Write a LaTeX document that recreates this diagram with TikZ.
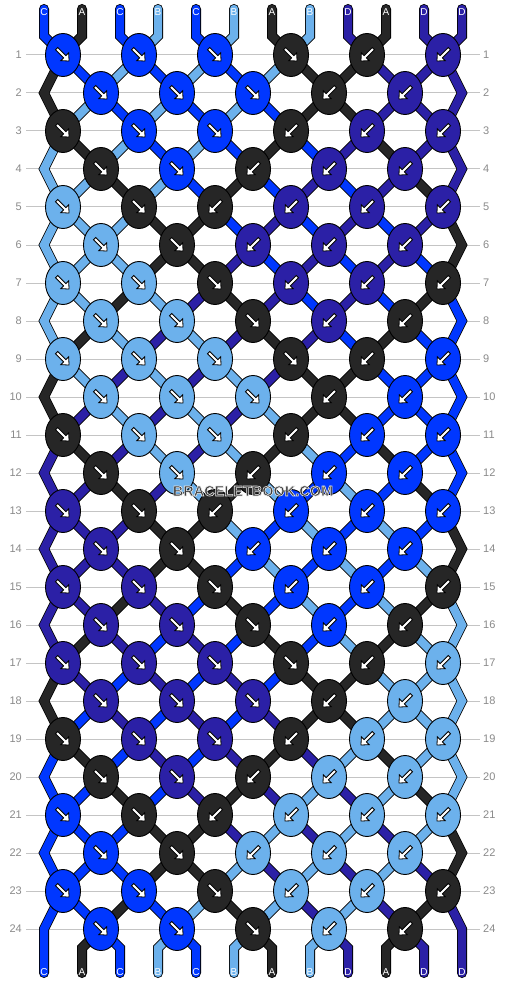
\documentclass[tikz,border=0pt]{standalone}
\usepackage{fontspec}
\setmainfont{Liberation Sans}
\usetikzlibrary{shapes.geometric}
\definecolor{colC}{HTML}{0037FF}
\definecolor{colA}{HTML}{262626}
\definecolor{colB}{HTML}{6CB1EC}
\definecolor{colD}{HTML}{2B20A6}
\definecolor{gridgray}{HTML}{C4C4C4}
\definecolor{numgray}{HTML}{8A8A8A}
\definecolor{wmgray}{HTML}{3C3C3C}
\newcommand{\haloed}[1]{\special{pdf:literal direct 2 Tr 0.92 0.92 0.92 RG 0.6 w}#1\special{pdf:literal direct 0 Tr}}
\tikzset{
  strand/.style={draw=black, double=#1, double distance=8.4pt, line width=0.8pt, line join=miter, line cap=round},
  knot/.style={ellipse, draw=black, line width=0.9pt, minimum width=35pt, minimum height=43pt, inner sep=0pt},
  arrowst/.style={draw=black, fill=white, line width=0.8pt, line join=miter},
  gridline/.style={draw=gridgray, line width=1pt},
  num/.style={text=numgray, font=\fontsize{11pt}{13pt}\selectfont, inner sep=0pt},
  lbl/.style={text=white, font=\fontsize{10pt}{12pt}\selectfont, inner sep=0pt},
}
\begin{document}
\begin{tikzpicture}[x=1pt,y=-1pt]
\useasboundingbox (0,0) rectangle (506,984);
\fill[white] (0,0) rectangle (506,984);
% row lines and numbers
\foreach \R in {1,...,24} {
  \draw[gridline] (26,17+38*\R) -- (480,17+38*\R);
  \node[num, anchor=east] (nl-\R) at (22,17+38*\R) {\R};
  \node[num, anchor=west] (nr-\R) at (483,17+38*\R) {\R};
}
% position coordinates
\foreach \R in {1,...,24} {
  \foreach \P in {0,...,11} {
    \pgfmathsetmacro\xx{isodd(\R) ? 63+76*floor(\P/2) : (\P==0 ? 44 : (\P==11 ? 462 : 101+76*floor((\P-1)/2)))}
    \coordinate (p-\R-\P) at (\xx,17+38*\R);
  }
}
% strands
\foreach \R/\L in {
 0/{C,A,C,B,C,B,A,B,D,A,D,D},
 1/{A,C,B,C,B,C,B,A,A,D,D,D},
 2/{A,B,C,B,C,B,C,A,A,D,D,D},
 3/{B,A,B,C,B,C,A,C,D,A,D,D},
 4/{B,B,A,B,C,A,C,D,C,D,A,D},
 5/{B,B,B,A,A,C,D,C,D,C,D,A},
 6/{B,B,B,A,A,D,C,D,C,D,C,A},
 7/{B,B,A,B,D,A,D,C,D,C,A,C},
 8/{B,A,B,D,B,D,A,D,C,A,C,C},
 9/{A,B,D,B,D,B,D,A,A,C,C,C},
 10/{A,D,B,D,B,D,B,A,A,C,C,C},
 11/{D,A,D,B,D,B,A,B,C,A,C,C},
 12/{D,D,A,D,B,A,B,C,B,C,A,C},
 13/{D,D,D,A,A,B,C,B,C,B,C,A},
 14/{D,D,D,A,A,C,B,C,B,C,B,A},
 15/{D,D,A,D,C,A,C,B,C,B,A,B},
 16/{D,A,D,C,D,C,A,C,B,A,B,B},
 17/{A,D,C,D,C,D,C,A,A,B,B,B},
 18/{A,C,D,C,D,C,D,A,A,B,B,B},
 19/{C,A,C,D,C,D,A,D,B,A,B,B},
 20/{C,C,A,C,D,A,D,B,D,B,A,B},
 21/{C,C,C,A,A,D,B,D,B,D,B,A},
 22/{C,C,C,A,A,B,D,B,D,B,D,A},
 23/{C,C,A,C,B,A,B,D,B,D,A,D},
 24/{C,A,C,B,C,B,A,B,D,A,D,D}} {
  \pgfmathtruncatemacro\Ra{\R+1}
  \pgfmathtruncatemacro\Rb{\R+2}
  \pgfmathtruncatemacro\odd{isodd(\R)}
  \foreach \c [count=\P from 0] in \L {
    \pgfmathsetmacro\xs{44+38*\P}
    \pgfmathtruncatemacro\edge{(\P==0)+(\P==11)}
    \ifnum\R=0
      \draw[strand=col\c] (\xs,9) -- (\xs,36) -- (p-1-\P);
    \else
      \ifnum\edge=1
        \ifnum\odd=1
          \ifnum\R<23
            \draw[strand=col\c] (p-\R-\P) -- (p-\Ra-\P) -- (p-\Rb-\P);
          \else
            \draw[strand=col\c] (p-\R-\P) -- (p-\Ra-\P) -- (\xs,973);
          \fi
        \fi
      \else
        \ifnum\R<24
          \draw[strand=col\c] (p-\R-\P) -- (p-\Ra-\P);
        \else
          \draw[strand=col\c] (p-\R-\P) -- (\xs,948) -- (\xs,973);
        \fi
      \fi
    \fi
  }
}
% knots
\foreach \R/\L in {
 1/{C/1,C/1,C/1,A/1,A/-1,D/-1},
 2/{C/1,C/1,C/1,A/-1,D/-1},
 3/{A/1,C/1,C/1,A/-1,D/-1,D/-1},
 4/{A/1,C/1,A/-1,D/-1,D/-1},
 5/{B/1,A/1,A/-1,D/-1,D/-1,D/-1},
 6/{B/1,A/1,D/-1,D/-1,D/-1},
 7/{B/1,B/1,A/1,D/-1,D/-1,A/-1},
 8/{B/1,B/1,A/1,D/-1,A/-1},
 9/{B/1,B/1,B/1,A/1,A/-1,C/-1},
 10/{B/1,B/1,B/1,A/-1,C/-1},
 11/{A/1,B/1,B/1,A/-1,C/-1,C/-1},
 12/{A/1,B/1,A/-1,C/-1,C/-1},
 13/{D/1,A/1,A/-1,C/-1,C/-1,C/-1},
 14/{D/1,A/1,C/-1,C/-1,C/-1},
 15/{D/1,D/1,A/1,C/-1,C/-1,A/-1},
 16/{D/1,D/1,A/1,C/-1,A/-1},
 17/{D/1,D/1,D/1,A/1,A/-1,B/-1},
 18/{D/1,D/1,D/1,A/-1,B/-1},
 19/{A/1,D/1,D/1,A/-1,B/-1,B/-1},
 20/{A/1,D/1,A/-1,B/-1,B/-1},
 21/{C/1,A/1,A/-1,B/-1,B/-1,B/-1},
 22/{C/1,A/1,B/-1,B/-1,B/-1},
 23/{C/1,C/1,A/1,B/-1,B/-1,A/-1},
 24/{C/1,C/1,A/1,B/-1,A/-1}} {
  \pgfmathtruncatemacro\odd{isodd(\R)}
  \foreach \c/\d [count=\I from 0] in \L {
    \ifnum\odd=1
      \pgfmathsetmacro\kx{63+76*\I}
    \else
      \pgfmathsetmacro\kx{101+76*\I}
    \fi
    \node[knot, fill=col\c] (k-\R-\I) at (\kx,17+38*\R) {};
    \begin{scope}[shift={(k-\R-\I.center)}, x={(\d*0.7071pt,-0.7071pt)}, y={(\d*0.7071pt,0.7071pt)}]
      \draw[arrowst] (-9,-1.6) -- (2.5,-1.6) -- (2.5,-5.5) -- (8.5,0) -- (2.5,5.5) -- (2.5,1.6) -- (-9,1.6) -- cycle;
    \end{scope}
  }
}
% string labels
\foreach \c [count=\P from 0] in {C,A,C,B,C,B,A,B,D,A,D,D} {
  \node[lbl] (top-\P) at (44+38*\P,12) {\c};
  \node[lbl] (bot-\P) at (44+38*\P,972) {\c};
}
% watermark
\node[text=wmgray, font=\fontsize{14.5pt}{16pt}\selectfont\bfseries, inner sep=0pt] (wm) at (253,491) {\haloed{BRACELETBOOK.COM}};
\end{tikzpicture}
\end{document}
